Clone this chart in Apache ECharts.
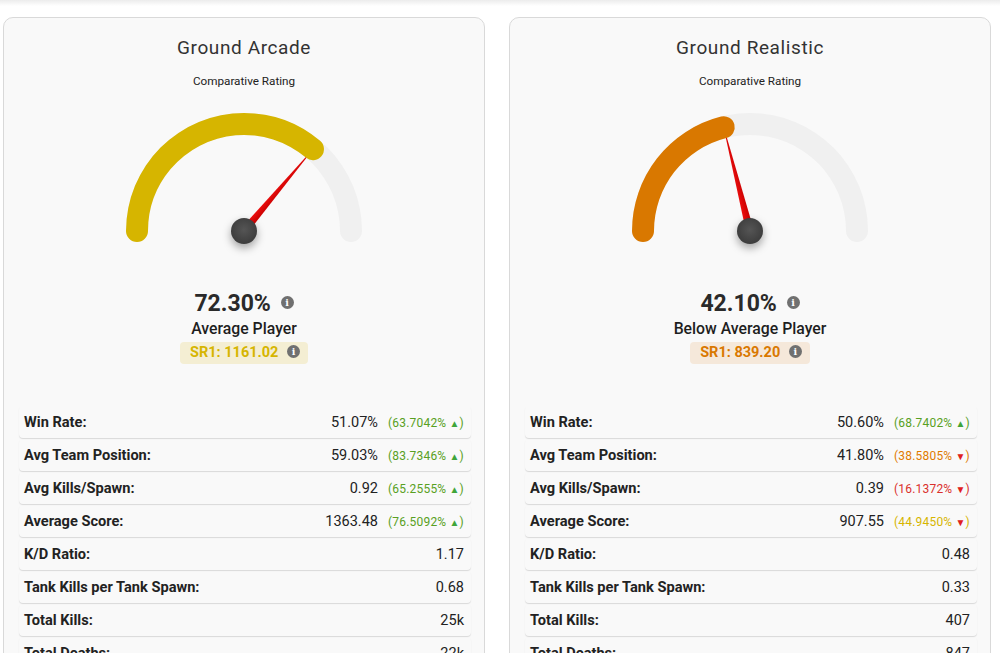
<!DOCTYPE html>
<html>
<head>
<meta charset="utf-8">
<script src="https://cdn.jsdelivr.net/npm/echarts@6/dist/echarts.min.js"></script>
<style>
  html,body{margin:0;padding:0;background:#fff;width:1000px;height:653px;overflow:hidden;font-family:Roboto,"Noto Sans",sans-serif;color:#222;}
  .topshade{position:absolute;left:0;top:0;width:1000px;height:6px;background:linear-gradient(#ececec,rgba(255,255,255,0));}
  .card{position:absolute;top:17px;width:482px;height:720px;background:#f9f9f9;border:1px solid #d9d9d9;border-radius:10px;box-sizing:border-box;}
  .title{position:absolute;left:0;width:100%;top:18px;text-align:center;font-size:19px;letter-spacing:0.6px;color:#333;line-height:24px;}
  .sub{position:absolute;left:0;width:100%;top:56px;text-align:center;font-size:11.7px;color:#222;line-height:14px;}
  .pct{position:absolute;left:0;width:100%;top:272px;text-align:center;font-size:23px;font-weight:700;color:#2a2a2a;line-height:28px;}
  .plabel{position:absolute;left:0;width:100%;top:301px;text-align:center;font-size:15.8px;font-weight:500;color:#1e1e1e;line-height:20px;}
  .badgewrap{position:absolute;left:0;width:100%;top:324px;text-align:center;}
  .badge{display:inline-block;height:22px;line-height:22px;padding:0 8px 0 10px;border-radius:4px;font-size:14.5px;font-weight:700;}
  .info{display:inline-block;width:13px;height:13px;border-radius:7px;background:#707070;color:#fff;font-size:9.5px;font-weight:700;line-height:13px;text-align:center;vertical-align:middle;font-family:"DejaVu Serif",serif;position:relative;top:-2px;}
  .rows{position:absolute;left:15px;width:452px;top:388px;}
  .row{position:relative;height:32px;margin-bottom:1px;border-radius:4px;box-shadow:0 1px 1px rgba(0,0,0,0.13);}
  .row .lab{position:absolute;left:5px;top:0;line-height:33px;font-size:14.6px;font-weight:700;color:#222;}
  .row .val{position:absolute;right:7px;top:0;line-height:33px;font-size:14.5px;color:#222;white-space:nowrap;}
  .row .val .p{font-size:12px;margin-left:10px;letter-spacing:0.2px;}
  .row .val .ar{font-size:10px;}
  #chart{position:absolute;left:0;top:0;width:1000px;height:653px;pointer-events:none;}
</style>
</head>
<body>
<div class="topshade"></div>
<div id="cards"></div>
<div id="chart"></div>
<script>
// ---- data ----
const modes = ['Ground Arcade', 'Ground Realistic'];
const ratings = [72.30, 42.10];
const ratingLabels = ['Average Player', 'Below Average Player'];
const sr1Values = ['1161.02', '839.20'];
const ratingColors = ['#d6b500', '#d97800'];
const badgeBgs = ['#f4eed3', '#f5e8da'];
const statLabels = ['Win Rate:', 'Avg Team Position:', 'Avg Kills/Spawn:', 'Average Score:', 'K/D Ratio:', 'Tank Kills per Tank Spawn:', 'Total Kills:', 'Total Deaths:'];
const arcadeValues = ['51.07%', '59.03%', '0.92', '1363.48', '1.17', '0.68', '25k', '22k'];
const arcadePct = [63.7042, 83.7346, 65.2555, 76.5092, null, null, null, null];
const realisticValues = ['50.60%', '41.80%', '0.39', '907.55', '0.48', '0.33', '407', '847'];
const realisticPct = [68.7402, 38.5805, 16.1372, 44.9450, null, null, null, null];

const statValues = [arcadeValues, realisticValues];
const statPcts = [arcadePct, realisticPct];
const cardLefts = [3, 509];

function pctColor(p) {
  if (p >= 60) return '#58a022';
  if (p >= 40) return '#d6b500';
  if (p >= 20) return '#e07b00';
  return '#d9302c';
}

const cardsEl = document.getElementById('cards');
modes.forEach((m, i) => {
  const c = document.createElement('div');
  c.className = 'card';
  c.style.left = cardLefts[i] + 'px';
  let rows = '';
  statLabels.forEach((lab, r) => {
    const p = statPcts[i][r];
    let pHtml = '';
    if (p !== null) {
      const up = p >= 50;
      pHtml = '<span class="p" style="color:' + pctColor(p) + '">(' + p.toFixed(4) + '% <span class="ar" style="color:' + (up ? '#3fa53a' : '#e02020') + '">' + (up ? '▲' : '▼') + '</span>)</span>';
    }
    rows += '<div class="row"><span class="lab">' + lab + '</span><span class="val">' + statValues[i][r] + pHtml + '</span></div>';
  });
  c.innerHTML =
    '<div class="title">' + m + '</div>' +
    '<div class="sub">Comparative Rating</div>' +
    '<div class="pct">' + ratings[i].toFixed(2) + '% <span class="info" style="margin-left:4px">i</span></div>' +
    '<div class="plabel">' + ratingLabels[i] + '</div>' +
    '<div class="badgewrap"><span class="badge" style="background:' + badgeBgs[i] + ';color:' + ratingColors[i] + '">SR1: ' + sr1Values[i] + ' <span class="info" style="margin-left:5px">i</span></span></div>' +
    '<div class="rows">' + rows + '</div>';
  cardsEl.appendChild(c);
});

// ---- gauges ----
const chart = echarts.init(document.getElementById('chart'), null, {renderer: 'canvas'});
const centers = [[244, 231], [750, 231]];
chart.setOption({
  backgroundColor: 'transparent',
  animation: false,
  series: ratings.map((v, i) => ({
    type: 'gauge',
    center: centers[i],
    radius: 118,
    startAngle: 180,
    endAngle: 0,
    min: 0,
    max: 100,
    progress: {show: true, width: 22, roundCap: true, itemStyle: {color: ratingColors[i]}},
    axisLine: {roundCap: true, lineStyle: {width: 22, color: [[1, '#f0f0f0']]}},
    axisTick: {show: false},
    splitLine: {show: false},
    axisLabel: {show: false},
    pointer: {
      show: true,
      icon: 'path://M50,0 L100,1000 L0,1000 Z',
      length: 111,
      width: 8,
      offsetCenter: [0, 0],
      itemStyle: {
        color: {type: 'linear', x: 0, y: 0, x2: 1, y2: 0, colorStops: [{offset: 0, color: '#f01010'}, {offset: 1, color: '#c80000'}]}
      }
    },
    anchor: {
      show: true,
      showAbove: true,
      size: 26,
      itemStyle: {
        color: {type: 'radial', x: 0.5, y: 0.45, r: 0.6, colorStops: [{offset: 0, color: '#555'}, {offset: 1, color: '#3a3a3a'}]},
        borderWidth: 0,
        shadowBlur: 8,
        shadowOffsetY: 4,
        shadowColor: 'rgba(0,0,0,0.35)'
      }
    },
    title: {show: false},
    detail: {show: false},
    data: [{value: v}]
  }))
});
</script>
</body>
</html>
